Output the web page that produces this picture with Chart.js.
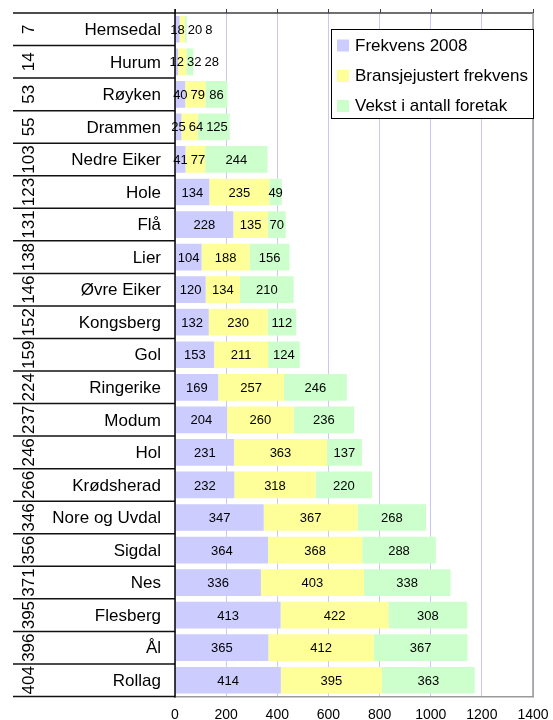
<!DOCTYPE html>
<html><head><meta charset="utf-8">
<script src="https://cdn.jsdelivr.net/npm/chart.js@4/dist/chart.umd.min.js"></script>
<style>html,body{margin:0;padding:0;background:#fff}#wrap{width:553px;height:720px;position:relative}</style>
</head><body><div id="wrap"><canvas id="c"></canvas></div>
<script>
const categories = ['Hemsedal','Hurum','Røyken','Drammen','Nedre Eiker','Hole','Flå','Lier','Øvre Eiker','Kongsberg','Gol','Ringerike','Modum','Hol','Krødsherad','Nore og Uvdal','Sigdal','Nes','Flesberg','Ål','Rollag'];
const ranks = [7,14,53,55,103,123,131,138,146,152,159,224,237,246,266,346,356,371,395,396,404];
const frekvens2008 = [18,12,40,25,41,134,228,104,120,132,153,169,204,231,232,347,364,336,413,365,414];
const bransjejustert = [20,32,79,64,77,235,135,188,134,230,211,257,260,363,318,367,368,403,422,412,395];
const vekst = [8,28,86,125,244,49,70,156,210,112,124,246,236,137,220,268,288,338,308,367,363];
const seriesNames = ['Frekvens 2008','Bransjejustert frekvens','Vekst i antall foretak'];
const xTicks = [0,200,400,600,800,1000,1200,1400];

const colors = ['#ccccff','#ffff99','#ccffcc'];
const FONT = '"Liberation Sans", Arial, sans-serif';

const overlay = {
  id: 'overlay',
  afterDraw(chart) {
    const ctx = chart.ctx;
    const area = chart.chartArea;
    const ys = chart.scales.y, xs = chart.scales.x;
    const n = categories.length;
    const rowH = (area.bottom - area.top) / n;
    ctx.save();
    // data labels
    ctx.font = '13px ' + FONT;
    ctx.fillStyle = '#000';
    ctx.textAlign = 'center';
    ctx.textBaseline = 'middle';
    const pad = 1.5;
    for (let i = 0; i < n; i++) {
      let prevRight = -Infinity;
      for (let d = 0; d < chart.data.datasets.length; d++) {
        const el = chart.getDatasetMeta(d).data[i];
        const txt = String(chart.data.datasets[d].data[i]);
        const w = ctx.measureText(txt).width;
        const cx = (el.x + el.base) / 2;
        let boxL = cx - w / 2 - pad;
        if (boxL < prevRight) boxL = prevRight;
        ctx.fillText(txt, boxL + pad + w / 2, el.y + 1);
        prevRight = boxL + w + 2 * pad;
      }
    }
    // category names and ranks
    ctx.font = '17px ' + FONT;
    for (let i = 0; i < n; i++) {
      const yc = ys.getPixelForValue(i);
      ctx.textAlign = 'right';
      ctx.textBaseline = 'middle';
      ctx.fillText(categories[i], 161, yc + 1);
      ctx.save();
      ctx.translate(28, yc);
      ctx.rotate(-Math.PI / 2);
      ctx.textAlign = 'center';
      ctx.fillText(String(ranks[i]), 0, 1);
      ctx.restore();
    }
    // row separators
    ctx.strokeStyle = '#111';
    ctx.lineWidth = 1.5;
    for (let i = 0; i <= n; i++) {
      const y = area.top + i * rowH;
      ctx.beginPath();
      ctx.moveTo(13, y);
      ctx.lineTo(area.left, y);
      ctx.stroke();
    }
    // top axis
    ctx.strokeStyle = '#404040';
    ctx.lineWidth = 1.5;
    ctx.beginPath();
    ctx.moveTo(area.left, area.top);
    ctx.lineTo(area.right, area.top);
    ctx.stroke();
    ctx.lineWidth = 1;
    xTicks.forEach(v => {
      const x = Math.round(xs.getPixelForValue(v)) + 0.5;
      ctx.beginPath();
      ctx.moveTo(x, area.top - 4);
      ctx.lineTo(x, area.top);
      ctx.stroke();
    });
    // right border
    ctx.strokeStyle = '#999';
    ctx.lineWidth = 1.5;
    ctx.beginPath();
    ctx.moveTo(area.right, area.top);
    ctx.lineTo(area.right, area.bottom);
    ctx.stroke();
    // y axis line
    ctx.strokeStyle = '#000';
    ctx.lineWidth = 1.5;
    ctx.beginPath();
    ctx.moveTo(area.left, area.top - 4);
    ctx.lineTo(area.left, area.bottom + 1);
    ctx.stroke();
    // legend
    const lx = 331, ly = 29, lw = area.right - 331, lh = 89;
    ctx.fillStyle = '#fff';
    ctx.fillRect(lx, ly, lw, lh);
    ctx.strokeStyle = '#000';
    ctx.lineWidth = 1;
    ctx.strokeRect(lx + 0.5, ly + 0.5, lw, lh);
    ctx.font = '17px ' + FONT;
    ctx.textAlign = 'left';
    ctx.textBaseline = 'middle';
    const itemY = [45.5, 76, 106];
    seriesNames.forEach((s, k) => {
      ctx.fillStyle = colors[k];
      ctx.fillRect(337, itemY[k] - 6, 12, 12);
      ctx.fillStyle = '#000';
      ctx.fillText(s, 355, itemY[k] + 0.5);
    });
    ctx.restore();
  }
};

new Chart(document.getElementById('c'), {
  type: 'bar',
  data: {
    labels: categories,
    datasets: [
      { label: seriesNames[0], data: frekvens2008, backgroundColor: colors[0] },
      { label: seriesNames[1], data: bransjejustert, backgroundColor: colors[1] },
      { label: seriesNames[2], data: vekst, backgroundColor: colors[2] }
    ]
  },
  options: {
    indexAxis: 'y',
    responsive: true,
    maintainAspectRatio: false,
    animation: false,
    devicePixelRatio: 1,
    barPercentage: 0.82,
    categoryPercentage: 1,
    layout: { padding: { left: 13, top: 13, right: 20, bottom: 0 } },
    plugins: { legend: { display: false }, tooltip: { enabled: false } },
    scales: {
      x: {
        type: 'linear', stacked: true, min: 0, max: 1400,
        afterBuildTicks(s) { s.ticks = xTicks.map(v => ({ value: v })); },
        afterFit(s) { s.height = 23.5; s.paddingRight = 0; },
        ticks: { font: { family: FONT, size: 14 }, color: '#000', padding: 10, maxRotation: 0,
                 callback: v => String(v) },
        grid: { color: '#c8c8f8', drawTicks: false, lineWidth: 1 },
        border: { color: '#999', width: 1.5 }
      },
      y: {
        stacked: true,
        afterFit(s) { s.width = 162; },
        ticks: { display: false },
        grid: { display: false },
        border: { display: false }
      }
    }
  },
  plugins: [overlay]
});
</script>
</body></html>
